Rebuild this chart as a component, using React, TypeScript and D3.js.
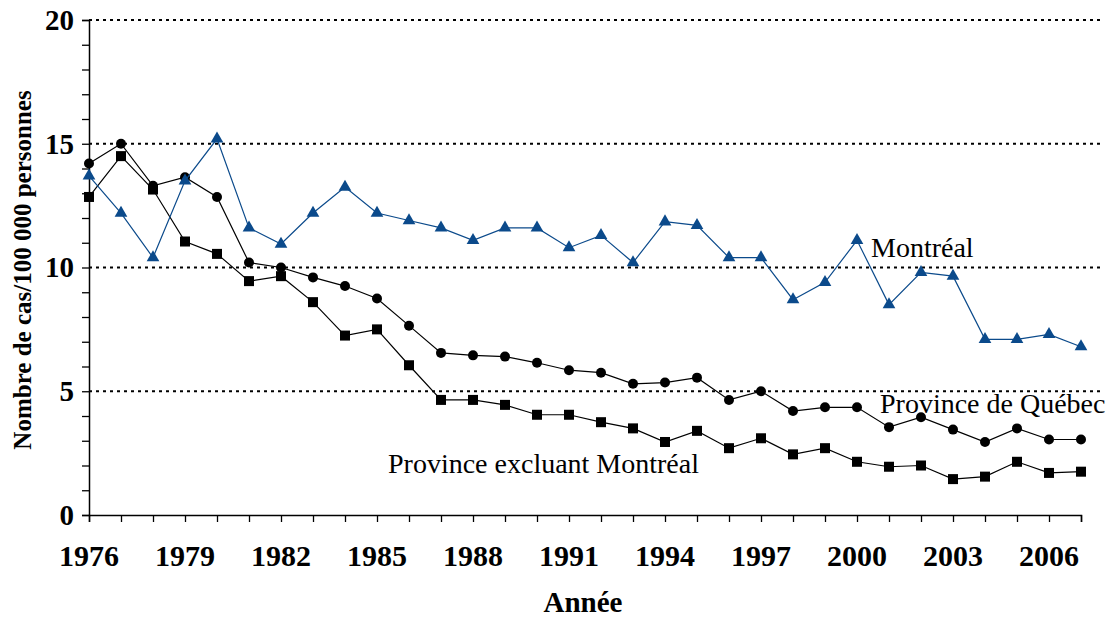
import React, { useEffect, useRef } from 'react';
import * as d3 from 'd3';

// Années 1976 -> 2007
const years = d3.range(1976, 2008);

// Nombre de cas / 100 000 personnes
const montreal = [
  13.7, 12.2, 10.4, 13.5, 15.2, 11.6, 10.95, 12.2, 13.25, 12.2, 11.9, 11.6, 11.1, 11.6, 11.6, 10.8,
  11.3, 10.2, 11.85, 11.7, 10.4, 10.4, 8.7, 9.4, 11.1, 8.5, 9.8, 9.65, 7.1, 7.1, 7.3, 6.8,
];
const quebec = [
  14.2, 15.0, 13.3, 13.65, 12.85, 10.2, 10.0, 9.6, 9.25, 8.75, 7.65, 6.55, 6.45, 6.4, 6.15, 5.85,
  5.75, 5.3, 5.35, 5.55, 4.65, 5.0, 4.2, 4.35, 4.35, 3.55, 3.95, 3.45, 2.95, 3.5, 3.05, 3.05,
];
const horsMontreal = [
  12.85, 14.5, 13.15, 11.05, 10.55, 9.45, 9.65, 8.6, 7.25, 7.5, 6.05, 4.65, 4.65, 4.45, 4.05, 4.05,
  3.75, 3.5, 2.95, 3.4, 2.7, 3.1, 2.45, 2.7, 2.15, 1.95, 2.0, 1.45, 1.55, 2.15, 1.7, 1.75,
];

const yTicks = [0, 5, 10, 15, 20];
const xTickLabels = [1976, 1979, 1982, 1985, 1988, 1991, 1994, 1997, 2000, 2003, 2006];

const App = () => {
  const ref = useRef<SVGSVGElement>(null);

  useEffect(() => {
    const svg = d3.select(ref.current);
    svg.selectAll('*').remove();

    const width = 1107;
    const height = 618;
    const marginLeft = 89;
    const plotRight = 1081;
    const gridRight = 1103;
    const top = 20;
    const bottom = 515;
    const font = '"Liberation Serif", "Times New Roman", serif';
    const blue = '#0b4a8b';

    const x = d3.scaleLinear().domain([1976, 2007]).range([marginLeft, plotRight]);
    const y = d3.scaleLinear().domain([0, 20]).range([bottom, top]);

    svg.attr('viewBox', `0 0 ${width} ${height}`).attr('font-family', font);

    // dotted grid lines
    svg.append('g')
      .selectAll('line')
      .data(yTicks.filter(d => d > 0))
      .join('line')
      .attr('x1', marginLeft)
      .attr('x2', gridRight)
      .attr('y1', d => y(d))
      .attr('y2', d => y(d))
      .attr('stroke', '#000')
      .attr('stroke-width', 2)
      .attr('stroke-dasharray', '3,4');

    // y axis
    svg.append('g')
      .attr('transform', `translate(${marginLeft},0)`)
      .call(d3.axisLeft(y).tickValues(d3.range(0, 21)).tickSize(7).tickFormat(() => ''))
      .call(g => g.select('.domain').attr('stroke-width', 1.5))
      .call(g => g.selectAll('.tick line').attr('stroke-width', 1.3));

    svg.append('g')
      .selectAll('text')
      .data(yTicks)
      .join('text')
      .attr('x', 74)
      .attr('y', d => y(d))
      .attr('dy', '0.34em')
      .attr('text-anchor', 'end')
      .attr('font-size', 29)
      .attr('font-weight', 'bold')
      .text(d => d);

    // x axis
    svg.append('g')
      .attr('transform', `translate(0,${bottom})`)
      .call(d3.axisBottom(x).tickValues(years).tickSize(7).tickFormat(() => ''))
      .call(g => g.select('.domain').attr('stroke-width', 1.5))
      .call(g => g.selectAll('.tick line').attr('stroke-width', 1.3));

    svg.append('g')
      .selectAll('text')
      .data(xTickLabels)
      .join('text')
      .attr('x', d => x(d))
      .attr('y', 566)
      .attr('text-anchor', 'middle')
      .attr('font-size', 30)
      .attr('font-weight', 'bold')
      .text(d => d);

    svg.append('text')
      .attr('x', 583)
      .attr('y', 612)
      .attr('text-anchor', 'middle')
      .attr('font-size', 29)
      .attr('font-weight', 'bold')
      .text('Année');

    svg.append('text')
      .attr('transform', `translate(31,${270}) rotate(-90)`)
      .attr('text-anchor', 'middle')
      .attr('font-size', 25)
      .attr('font-weight', 'bold')
      .text('Nombre de cas/100 000 personnes');

    const line = d3.line<number>()
      .x((_, i) => x(years[i]))
      .y(d => y(d));

    // Province excluant Montréal (carrés)
    svg.append('path')
      .datum(horsMontreal)
      .attr('d', line)
      .attr('fill', 'none')
      .attr('stroke', '#000')
      .attr('stroke-width', 1.2);
    svg.append('g')
      .selectAll('rect')
      .data(horsMontreal)
      .join('rect')
      .attr('x', (_, i) => x(years[i]) - 5)
      .attr('y', d => y(d) - 5)
      .attr('width', 10)
      .attr('height', 10)
      .attr('fill', '#000');

    // Province de Québec (cercles)
    svg.append('path')
      .datum(quebec)
      .attr('d', line)
      .attr('fill', 'none')
      .attr('stroke', '#000')
      .attr('stroke-width', 1.2);
    svg.append('g')
      .selectAll('circle')
      .data(quebec)
      .join('circle')
      .attr('cx', (_, i) => x(years[i]))
      .attr('cy', d => y(d))
      .attr('r', 5)
      .attr('fill', '#000');

    // Montréal (triangles)
    svg.append('path')
      .datum(montreal)
      .attr('d', line)
      .attr('fill', 'none')
      .attr('stroke', blue)
      .attr('stroke-width', 1.2);
    const tri = d3.symbol().type(d3.symbolTriangle).size(70);
    svg.append('g')
      .selectAll('path')
      .data(montreal)
      .join('path')
      .attr('transform', (d, i) => `translate(${x(years[i])},${y(d)})`)
      .attr('d', tri)
      .attr('fill', blue);

    // étiquettes des séries
    const labels = [
      { text: 'Montréal', x: 871, y: 257 },
      { text: 'Province de Québec', x: 880, y: 413 },
      { text: 'Province excluant Montréal', x: 388, y: 473 },
    ];
    svg.append('g')
      .selectAll('text')
      .data(labels)
      .join('text')
      .attr('x', d => d.x)
      .attr('y', d => d.y)
      .attr('font-size', 28)
      .attr('fill', '#000')
      .text(d => d.text);
  }, []);

  return <svg ref={ref} width={1107} height={618} style={{ position: 'absolute', left: 0, top: 0 }} />;
};

export default App;
